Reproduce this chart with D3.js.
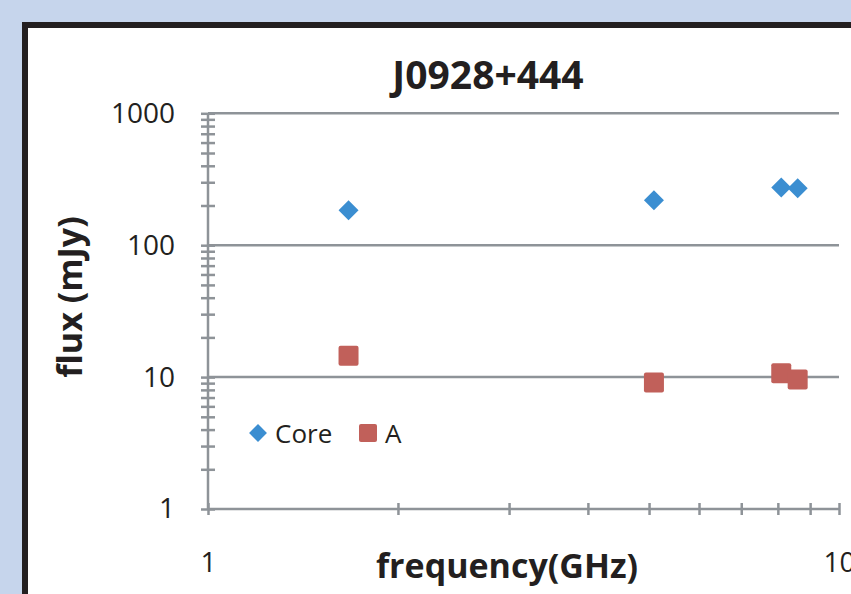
<!DOCTYPE html>
<html>
<head>
<meta charset="utf-8">
<script src="https://cdn.jsdelivr.net/npm/d3@7"></script>
<style>
  body { margin: 0; background: #c6d5ec; }
  svg { display: block; }
</style>
</head>
<body>
<svg width="851" height="594"></svg>
<script>
// данные: частота (GHz) и поток (mJy)
const title = "J0928+444";
const seriesNames = ["Core", "A"];
const freqs = [1.67, 5.09, 8.1, 8.6];
const coreFlux = [184, 219, 274, 270];
const aFlux = [14.5, 9.1, 10.7, 9.6];
const yTickLabels = [1, 10, 100, 1000];
const xTickLabels = [1, 10];

const svg = d3.select("svg");

// рамка диаграммы
svg.append("rect")
    .attr("x", 25).attr("y", 25)
    .attr("width", 900).attr("height", 700)
    .style("fill", "#fff")
    .style("stroke", "#231f20")
    .style("stroke-width", 6);

const area = { left: 208, right: 839, top: 113.3, bottom: 509 };

const scX = d3.scaleLog().domain([1, 10]).range([area.left, area.right]);
const scY = d3.scaleLog().domain([1, 1000]).range([area.bottom, area.top]);

const grey = "#8e9398";

// сетка по основным значениям
svg.append("g")
    .selectAll("line")
    .data([10, 100, 1000])
    .enter()
    .append("line")
    .attr("x1", area.left).attr("x2", area.right)
    .attr("y1", d => scY(d)).attr("y2", d => scY(d))
    .style("stroke", grey)
    .style("stroke-width", 2.5);

// все деления (2..9 в каждой декаде)
let yTicks = [];
for (let p = 1; p <= 100; p *= 10)
    for (let m = 1; m <= 9; m++) yTicks.push(m * p);
yTicks.push(1000);
let xTicks = [];
for (let m = 1; m <= 10; m++) xTicks.push(m);

const axisY = d3.axisLeft(scY).tickValues(yTicks).tickSize(7).tickFormat(d => yTickLabels.includes(d) ? d : "");
const gy = svg.append("g")
    .attr("transform", `translate(${area.left},0)`)
    .call(axisY);
gy.select(".domain").attr("d", `M0,${area.top}V${area.bottom}`);
gy.selectAll(".tick line").attr("x1", -7).attr("x2", 7);
gy.selectAll(".tick text").attr("x", -33);

const axisX = d3.axisBottom(scX).tickValues(xTicks).tickSize(6).tickFormat(d => xTickLabels.includes(d) ? d : "");
const gx = svg.append("g")
    .attr("transform", `translate(0,${area.bottom})`)
    .call(axisX);
gx.select(".domain").attr("d", `M${area.left},0H${area.right}`);
gx.selectAll(".tick line").attr("y1", -6).attr("y2", 6);
gx.selectAll(".tick text").attr("y", 43);

svg.selectAll(".domain, .tick line")
    .style("stroke", grey)
    .style("stroke-width", 2.5);
svg.selectAll(".tick text")
    .style("font-family", "Open Sans")
    .style("font-size", "28px")
    .style("fill", "#231f20");

// точки
svg.append("g").selectAll("path")
    .data(freqs.map((f, i) => [f, coreFlux[i]]))
    .enter()
    .append("path")
    .attr("d", d3.symbol().type(d3.symbolSquare).size(200))
    .attr("transform", d => `translate(${scX(d[0])},${scY(d[1])}) rotate(45)`)
    .style("fill", "#3b8ed1");

svg.append("g").selectAll("rect")
    .data(freqs.map((f, i) => [f, aFlux[i]]))
    .enter()
    .append("rect")
    .attr("x", d => scX(d[0]) - 10)
    .attr("y", d => scY(d[1]) - 10)
    .attr("width", 20).attr("height", 20)
    .attr("rx", 2)
    .style("fill", "#c1605a");

// заголовки
svg.append("text")
    .attr("x", 488).attr("y", 89)
    .attr("text-anchor", "middle")
    .style("font-family", "Open Sans").style("font-weight", "bold")
    .style("font-size", "39px").style("fill", "#231f20")
    .text(title);

svg.append("text")
    .attr("x", 507).attr("y", 578)
    .attr("text-anchor", "middle")
    .style("font-family", "Open Sans").style("font-weight", "bold")
    .style("font-size", "34px").style("fill", "#231f20")
    .text("frequency(GHz)");

svg.append("text")
    .attr("transform", "translate(82,297) rotate(-90)")
    .attr("text-anchor", "middle")
    .style("font-family", "Open Sans").style("font-weight", "bold")
    .style("font-size", "34px").style("fill", "#231f20")
    .text("flux (mJy)");

// легенда
const legend = svg.append("g").attr("transform", "translate(258,433)");
legend.append("path")
    .attr("d", d3.symbol().type(d3.symbolSquare).size(160))
    .attr("transform", "rotate(45)")
    .style("fill", "#3b8ed1");
legend.append("text")
    .attr("x", 17).attr("y", 10)
    .style("font-family", "Open Sans").style("font-size", "26px").style("fill", "#231f20")
    .text(seriesNames[0]);
legend.append("rect")
    .attr("x", 101).attr("y", -9).attr("width", 18).attr("height", 18).attr("rx", 2)
    .style("fill", "#c1605a");
legend.append("text")
    .attr("x", 127).attr("y", 10)
    .style("font-family", "Open Sans").style("font-size", "26px").style("fill", "#231f20")
    .text(seriesNames[1]);
</script>
</body>
</html>
